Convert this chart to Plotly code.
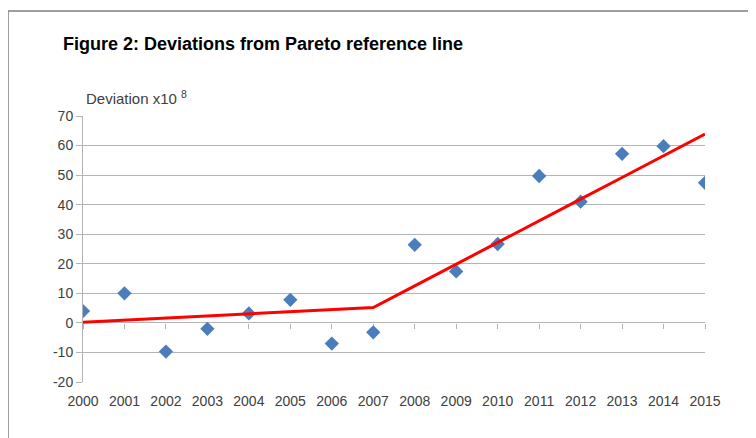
import plotly.graph_objects as go

years = [2000, 2001, 2002, 2003, 2004, 2005, 2006, 2007,
         2008, 2009, 2010, 2011, 2012, 2013, 2014, 2015]
deviation = [4.0, 10.0, -9.7, -2.0, 3.2, 7.8, -7.0, -3.2,
             26.4, 17.4, 26.7, 49.7, 41.0, 57.2, 59.8, 47.4]
reference_line = [0.2, 0.9, 1.6, 2.4, 3.1, 3.8, 4.5, 5.2,
                  12.5, 19.9, 27.2, 34.6, 41.9, 49.2, 56.5, 63.9]
y_ticks = [70, 60, 50, 40, 30, 20, 10, 0, -10, -20]
y_tick_text = ["70", "60", "50", "40", "30", "20", "10", "0", "-10", "-20"]

# the page body adds an 8px offset, so the figure is drawn 8px smaller
OFF = 8
W, H = 756 - OFF, 438 - OFF
L, R, T, B = 83 - OFF, 51, 116 - OFF, 56
pw, ph = W - L - R, H - T - B

def px_x(px):
    return (px - OFF - L) / pw

def px_y(py):
    return (H - B - (py - OFF)) / ph

font_fam = "Liberation Sans, Arial, sans-serif"
txt_col = "#404040"
grid_col = "#b3b3b3"

fig = go.Figure()
fig.add_trace(go.Scatter(
    x=years, y=deviation, mode="markers",
    marker=dict(symbol="diamond", size=11, color="#4a7ebb"),
    showlegend=False))
fig.add_trace(go.Scatter(
    x=years, y=reference_line, mode="lines",
    line=dict(color="#ff0000", width=3), showlegend=False, hoverinfo="skip"))
fig.add_trace(go.Scatter(x=years, y=[None] * len(years), xaxis="x2",
                         showlegend=False, hoverinfo="skip"))

fig.update_layout(
    width=W, height=H,
    margin=dict(l=L, r=R, t=T, b=B),
    paper_bgcolor="white", plot_bgcolor="white",
    font=dict(family=font_fam, size=14, color=txt_col),
    title=dict(text="<b>Figure 2: Deviations from Pareto reference line</b>",
               x=(63 - OFF) / W, xanchor="left", y=1 - (44 - OFF) / H,
               yanchor="middle",
               font=dict(size=18, color="#000000", family=font_fam)),
    xaxis=dict(range=[2000, 2015], tickmode="array", tickvals=years,
               ticktext=[str(y) for y in years], showgrid=False,
               zeroline=False, showline=False, ticks="",
               ticklabelstandoff=9, tickfont=dict(size=14, color=txt_col)),
    xaxis2=dict(range=[2000, 2015], overlaying="x", anchor="free",
                position=2 / 9, side="bottom", tickmode="array",
                tickvals=years, showticklabels=False, ticks="outside",
                ticklen=5, tickcolor=grid_col, showline=False,
                showgrid=False, zeroline=False, layer="below traces"),
    yaxis=dict(range=[-20, 70], tickmode="array", tickvals=y_ticks,
               ticktext=y_tick_text,
               showgrid=True, gridcolor=grid_col, gridwidth=1,
               zeroline=True, zerolinecolor=grid_col, zerolinewidth=1,
               showline=True, linecolor=grid_col, linewidth=1,
               ticks="outside", ticklen=6, tickcolor=grid_col,
               tickfont=dict(size=14, color=txt_col)),
    shapes=[dict(type="rect", xref="paper", yref="paper",
                 x0=px_x(8), x1=px_x(800), y0=px_y(480), y1=px_y(11),
                 line=dict(color="#808080", width=1.5), layer="below")],
    annotations=[dict(text="Deviation x10 <sup>8</sup>", xref="paper",
                      yref="paper", x=px_x(84), y=px_y(97), xanchor="left",
                      yanchor="middle", showarrow=False,
                      font=dict(size=15, color=txt_col))],
)

fig.write_html("out.html")
